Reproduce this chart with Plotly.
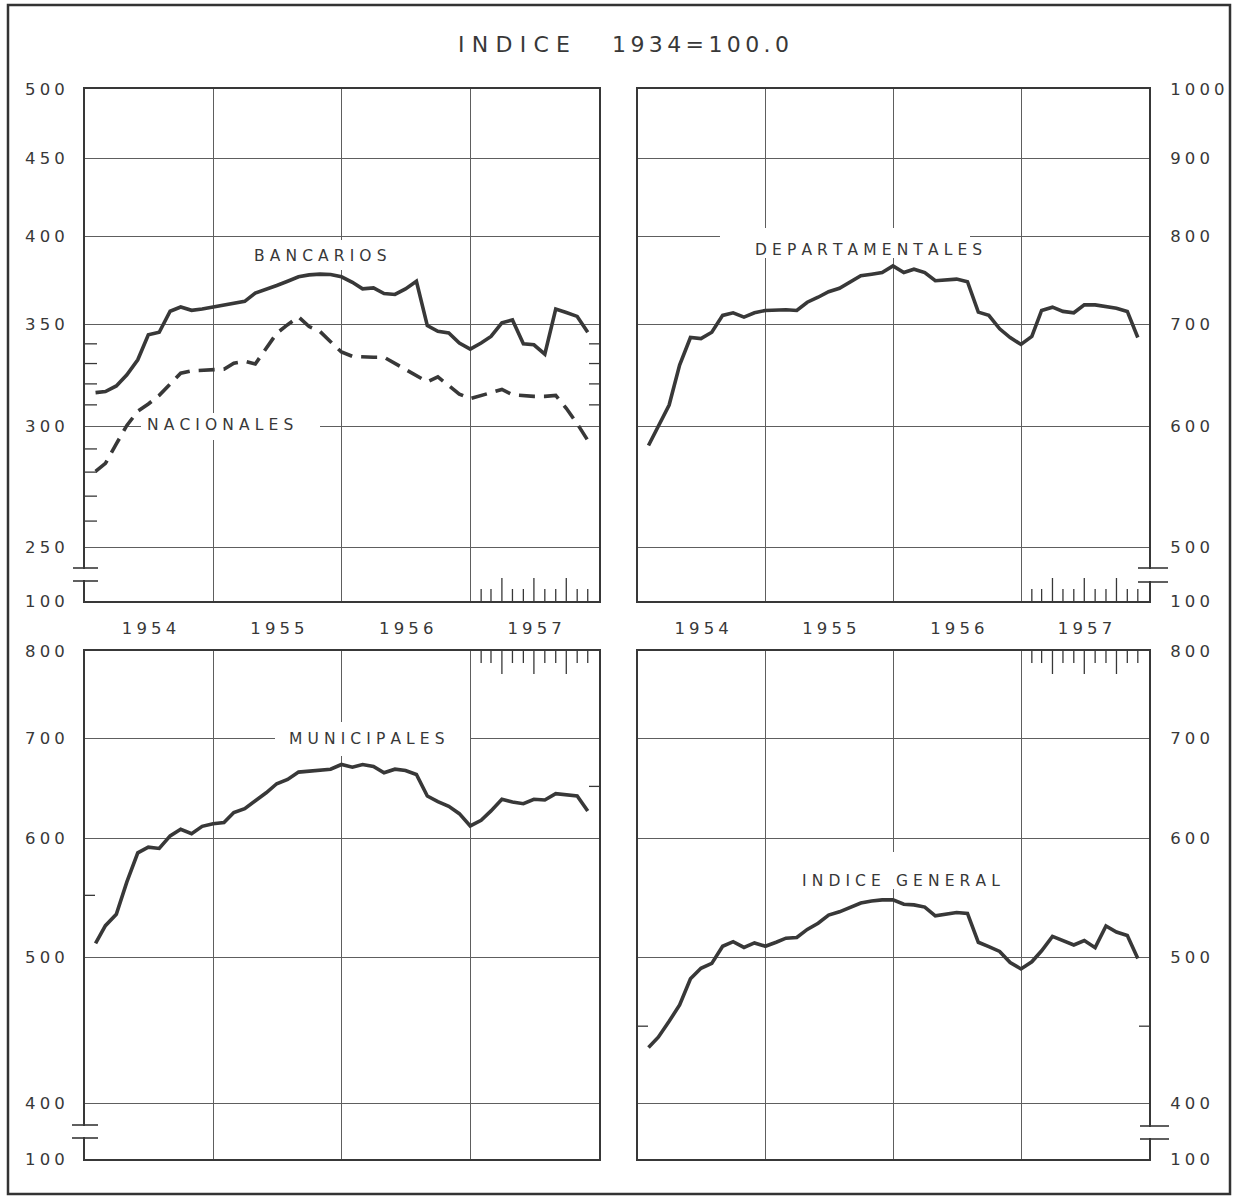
import math
import pandas as pd
import plotly.graph_objects as go

W, H = 1238, 1199

# ---------------- data ----------------
MONTHS = pd.date_range("1954-01-31", periods=47, freq=pd.offsets.MonthEnd())
YEARS = ["1954", "1955", "1956", "1957"]
YEAR_MID = ["1954-07-02", "1955-07-02", "1956-07-02", "1957-07-02"]
YEAR_START = ["1954-01-01", "1955-01-01", "1956-01-01", "1957-01-01", "1958-01-01"]

BANCARIOS = [315.8, 316.3, 319.0, 324.4, 331.9, 344.7, 346.0, 357.2, 359.5, 357.7,
             358.4, 359.5, 360.6, 361.7, 362.6, 367.2, 369.1, 371.4, 373.8, 376.3,
             377.4, 377.8, 377.6, 376.3, 373.2, 369.5, 370.0, 366.9, 366.4, 369.5,
             373.8, 349.5, 346.5, 345.6, 340.4, 337.3, 340.4, 343.8, 351.0, 352.5,
             340.0, 339.5, 334.7, 358.4, 356.5, 354.4, 346.0]
NACIONALES = [280.3, 283.7, 292.2, 300.5, 307.0, 310.4, 314.5, 319.7, 325.2, 326.4,
              326.6, 326.8, 327.2, 330.2, 331.2, 329.8, 338.1, 345.5, 350.0, 354.1,
              349.0, 346.4, 341.1, 335.8, 333.6, 333.2, 333.2, 333.2, 330.2, 327.2,
              323.9, 321.0, 323.4, 318.9, 315.1, 312.9, 314.4, 315.6, 317.3, 314.8,
              314.2, 314.0, 314.0, 314.5, 308.4, 301.3, 293.8]
DEPARTAMENTALES = [583.0, 600.7, 619.8, 658.4, 686.5, 685.4, 692.0, 709.9, 712.7, 708.1,
                   712.7, 715.2, 715.7, 716.0, 715.2, 724.2, 729.7, 735.8, 739.6, 746.3,
                   753.8, 755.6, 757.5, 765.1, 757.5, 761.3, 757.5, 748.1, 748.9, 750.0,
                   747.0, 713.4, 709.9, 695.6, 686.5, 679.4, 687.6, 715.2, 718.8, 714.2,
                   712.7, 721.3, 721.3, 719.9, 717.7, 714.2, 686.5]
MUNICIPALES = [511.0, 525.0, 534.2, 561.5, 587.0, 592.2, 591.0, 602.5, 608.7, 604.6,
               611.4, 613.9, 614.9, 624.4, 628.2, 635.6, 643.7, 652.7, 657.0, 664.4,
               665.4, 666.0, 667.4, 672.2, 669.5, 672.2, 670.2, 663.7, 667.4, 666.0,
               662.0, 640.5, 635.0, 630.4, 623.4, 611.8, 617.1, 626.0, 637.3, 634.6,
               633.0, 637.3, 636.6, 642.8, 641.5, 640.5, 626.0]
INDICE_GENERAL = [435.5, 442.5, 453.4, 464.9, 484.0, 491.8, 495.5, 508.7, 512.3, 507.8,
                  511.3, 508.7, 511.8, 515.0, 515.6, 522.0, 527.0, 533.6, 536.3, 540.2,
                  543.6, 545.3, 546.2, 546.2, 542.5, 542.0, 540.2, 533.0, 534.1, 535.7,
                  534.9, 511.8, 508.4, 504.7, 496.2, 491.3, 496.7, 505.2, 516.4, 512.9,
                  509.7, 513.2, 507.6, 524.8, 519.9, 517.2, 499.3]

TICKS_TL = [250, 300, 350, 400, 450, 500]
TICKS_TR = [500, 600, 700, 800, 900, 1000]
TICKS_BOTTOM = [400, 500, 600, 700, 800]
BREAK_LABEL = "100"
MINOR_TL_LEFT = [260, 270, 280, 290, 310, 320, 330, 340]
MINOR_TL_RIGHT = [310, 320, 330, 340]
MINOR_BL_LEFT = [550]
MINOR_BL_RIGHT = [650]
MINOR_BR_BOTH = [450]

# ---------------- style ----------------
FONT = "DejaVu Sans"
INK = "#383838"
GRID = "#5e5e5e"
LINE_W = 3.6


def sp(text, ch="\u2005"):
    return ch.join(text)


def log_range(top_val, top_px, ref_val, ref_px, bot_px):
    slope = (math.log10(top_val) - math.log10(ref_val)) / (ref_px - top_px)
    lo = math.log10(ref_val) - slope * (bot_px - ref_px)
    return [lo, math.log10(top_val)]


panels = [
    dict(x="x", y="y", px=(85, 599), py=(89, 601), ticks=TICKS_TL,
         rng=log_range(500, 89, 250, 547, 601), side="left", top=True),
    dict(x="x2", y="y2", px=(638, 1149), py=(89, 601), ticks=TICKS_TR,
         rng=log_range(1000, 89, 500, 547, 601), side="right", top=True),
    dict(x="x3", y="y3", px=(85, 599), py=(651, 1159), ticks=TICKS_BOTTOM,
         rng=log_range(800, 651, 400, 1103, 1159), side="left", top=False),
    dict(x="x4", y="y4", px=(638, 1149), py=(651, 1159), ticks=TICKS_BOTTOM,
         rng=log_range(800, 651, 400, 1103, 1159), side="right", top=False),
]

fig = go.Figure()

series = [
    (0, BANCARIOS, "solid"),
    (0, NACIONALES, "16px,9px"),
    (1, DEPARTAMENTALES, "solid"),
    (2, MUNICIPALES, "solid"),
    (3, INDICE_GENERAL, "solid"),
]
for pi, vals, dash in series:
    p = panels[pi]
    fig.add_trace(go.Scatter(x=MONTHS, y=vals, mode="lines",
                             line=dict(color=INK, width=LINE_W, dash=dash),
                             xaxis=p["x"], yaxis=p["y"], showlegend=False,
                             hoverinfo="skip"))

layout_axes = {}
tickfont = dict(family=FONT, size=16.5, color=INK)
for p in panels:
    x0, x1 = p["px"]
    y0, y1 = p["py"]
    xkey = "xaxis" + p["x"][1:]
    ykey = "yaxis" + p["y"][1:]
    layout_axes[xkey] = dict(
        domain=[x0 / W, x1 / W], anchor=p["y"], type="date", automargin=False,
        range=["1954-01-01", "1958-01-01"], showline=True, mirror=True,
        linecolor=INK, linewidth=1.7, ticks="", showgrid=False, zeroline=False,
        tickmode="array", tickvals=YEAR_MID, ticktext=[sp(y) for y in YEARS],
        showticklabels=p["top"], tickfont=tickfont, ticklabelstandoff=11,
        minor=dict(tickmode="array", tickvals=YEAR_START, showgrid=True,
                   gridcolor=GRID, gridwidth=1, ticks=""),
        fixedrange=True)
    lo = p["rng"][0]
    layout_axes[ykey] = dict(
        domain=[1 - y1 / H, 1 - y0 / H], anchor=p["x"], type="log", automargin=False,
        range=p["rng"], showline=True, mirror=True, linecolor=INK, linewidth=1.7,
        ticks="", showgrid=True, gridcolor=GRID, gridwidth=1, zeroline=False,
        tickmode="array", tickvals=[10 ** lo] + p["ticks"],
        ticktext=[sp(BREAK_LABEL)] + [sp(str(t)) for t in p["ticks"]],
        side=p["side"], tickfont=tickfont,
        ticklabelstandoff=15 if p["side"] == "left" else 16,
        fixedrange=True)

shapes = []


def px_x(px):
    return px / W


def px_y(py):
    return 1 - py / H


# white gaps behind the curve labels (hide grid lines, kept clear of the data)
gaps = [
    (252, 390, 240, 270),
    (141, 320, 413, 440),
    (720, 970, 228, 258),
    (275, 470, 722, 756),
    (795, 1005, 852, 889),
]
for gx0, gx1, gy0, gy1 in gaps:
    shapes.append(dict(type="rect", layer="above", xref="paper", yref="paper",
                       x0=px_x(gx0), x1=px_x(gx1), y0=px_y(gy1), y1=px_y(gy0),
                       fillcolor="white", line=dict(width=0)))


# minor y ticks inside the frame
def ytick(p, v, side, length=12):
    w = p["px"][1] - p["px"][0]
    if side == "left":
        a, b = 0, length / w
    else:
        a, b = 1 - length / w, 1
    shapes.append(dict(type="line", xref=p["x"] + " domain", yref=p["y"],
                       x0=a, x1=b, y0=v, y1=v, line=dict(color=INK, width=1.3)))


for v in MINOR_TL_LEFT:
    ytick(panels[0], v, "left")
for v in MINOR_TL_RIGHT:
    ytick(panels[0], v, "right", 10)
for v in MINOR_BL_LEFT:
    ytick(panels[2], v, "left", 10)
for v in MINOR_BL_RIGHT:
    ytick(panels[2], v, "right", 10)
for v in MINOR_BR_BOTH:
    ytick(panels[3], v, "left", 10)
    ytick(panels[3], v, "right", 10)

# monthly ticks in the last year
for p in panels:
    h = p["py"][1] - p["py"][0]
    for d in MONTHS:
        if d.year != 1957:
            continue
        long_tick = d.month in (3, 6, 9)
        ln = (23 if long_tick else 12) / h
        if p["top"]:
            y0, y1 = 0, ln
        else:
            y0, y1 = 1, 1 - ln
        shapes.append(dict(type="line", xref=p["x"], yref=p["y"] + " domain",
                           x0=d, x1=d, y0=y0, y1=y1,
                           line=dict(color=INK, width=1.3)))

# axis break marks
breaks = [
    (85, 73, 98, 568, 581),
    (1149, 1138, 1168, 568, 582),
    (85, 72, 98, 1125, 1138),
    (1149, 1140, 1169, 1126, 1139),
]
for ax, bx0, bx1, by0, by1 in breaks:
    shapes.append(dict(type="line", xref="paper", yref="paper",
                       x0=px_x(ax), x1=px_x(ax), y0=px_y(by0 + 1), y1=px_y(by1 - 1),
                       line=dict(color="white", width=4)))
    for by in (by0, by1):
        shapes.append(dict(type="line", xref="paper", yref="paper",
                           x0=px_x(bx0), x1=px_x(bx1), y0=px_y(by), y1=px_y(by),
                           line=dict(color=INK, width=1.6)))

# outer frame
shapes.append(dict(type="rect", xref="paper", yref="paper",
                   x0=px_x(8), x1=px_x(1230), y0=px_y(1194), y1=px_y(5),
                   line=dict(color="#333333", width=2.5), fillcolor="rgba(0,0,0,0)"))

annotations = []


def label(text, cx, cy, size=15.5, ch="\u2004"):
    annotations.append(dict(text=sp(text, ch), x=px_x(cx), y=px_y(cy),
                            xref="paper", yref="paper", showarrow=False,
                            xanchor="center", yanchor="middle",
                            font=dict(family=FONT, size=size, color=INK)))


label("INDICE", 514, 45, 22, "\u2004")
label("1934=100.0", 701, 45, 22, "\u2009")
label("BANCARIOS", 320, 256)
label("NACIONALES", 220, 425)
label("DEPARTAMENTALES", 868, 250)
label("MUNICIPALES", 367, 739)
label("INDICE GENERAL", 901, 881)

fig.update_layout(
    width=W, height=H, margin=dict(l=0, r=0, t=0, b=0, autoexpand=False),
    paper_bgcolor="white", plot_bgcolor="white",
    showlegend=False, shapes=shapes, annotations=annotations,
    font=dict(family=FONT, color=INK),
    **layout_axes,
)

fig.write_html("out.html", config={"displayModeBar": False},
               post_script="document.body.style.margin='0';document.body.style.overflow='hidden';")
